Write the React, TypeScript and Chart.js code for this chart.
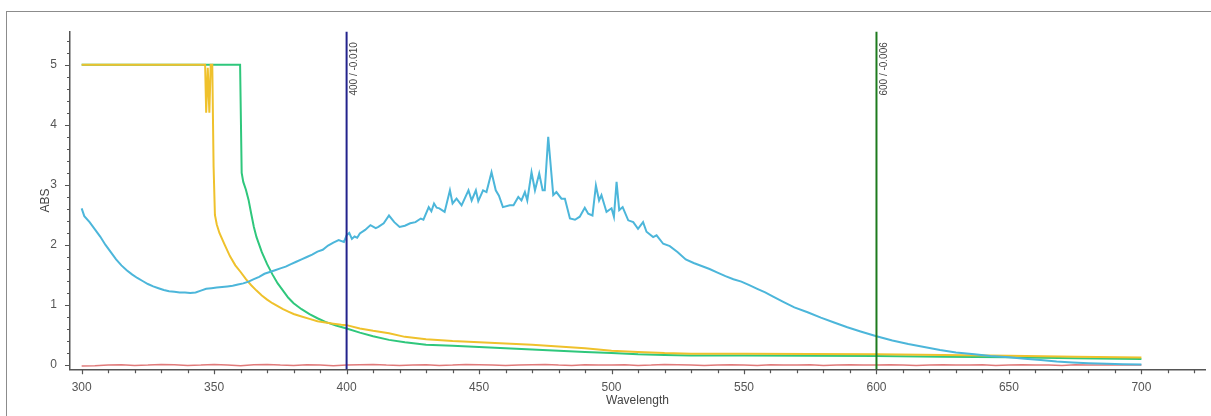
import { useEffect, useRef } from "react";
import { Chart, registerables } from "chart.js";

Chart.register(...registerables);

// ---------- DATA ----------
const blueWl = [
  300, 301, 303, 305, 307, 309, 311, 313, 315, 317, 319, 321, 323, 325, 327, 329, 331, 333, 335, 337,
  339, 341, 343, 345, 347, 349, 351, 353, 355, 357, 359, 361, 363, 365, 367, 369, 371, 373, 375, 377,
  379, 381, 383, 385, 387, 389, 391, 393, 395, 397, 399, 400, 401, 402, 403, 404, 405, 407, 409, 411,
  412, 414, 416, 418, 420, 422, 424, 426, 428, 429, 431, 432, 433, 434, 435, 437, 439, 440, 441.5, 443.4,
  446, 447.2, 448.8, 449.7, 451.5, 452.8, 454.7, 456.3, 457.5, 459, 461.6, 463, 464.8, 466, 467.3, 468.2,
  469.8, 471.1, 472.7, 474, 474.8, 476.1, 478, 479.2, 481.1, 482.4, 484.3, 486.2, 488, 489.9, 491.2, 492.8,
  494.1, 495.3, 496.2, 498.1, 500, 500.9, 501.9, 502.9, 504.2, 506.3, 508.2, 510, 511.9, 513.2, 515.7, 517,
  519.5, 522, 525, 528, 531, 534, 537, 540, 543, 546, 549, 552, 555, 558, 561, 565, 569, 574, 579, 584,
  589, 594, 600, 606, 612, 618, 624, 630, 637, 643, 650, 656, 662, 668, 674, 680, 687, 693, 700,
];
const blueAbs = [
  2.61, 2.48, 2.38, 2.26, 2.14, 2.0, 1.88, 1.76, 1.66, 1.58, 1.51, 1.45, 1.4, 1.35, 1.31, 1.28, 1.25, 1.23, 1.22, 1.21,
  1.21, 1.2, 1.21, 1.24, 1.27, 1.28, 1.29, 1.3, 1.31, 1.32, 1.34, 1.36, 1.39, 1.43, 1.47, 1.52, 1.55, 1.58, 1.61, 1.64,
  1.68, 1.72, 1.76, 1.8, 1.84, 1.89, 1.92, 1.99, 2.04, 2.08, 2.05, 2.16, 2.2, 2.1, 2.14, 2.12, 2.19, 2.25, 2.33, 2.28,
  2.3, 2.36, 2.49, 2.38, 2.3, 2.32, 2.36, 2.38, 2.44, 2.42, 2.63, 2.56, 2.69, 2.62, 2.61, 2.55, 2.91, 2.69, 2.77, 2.66,
  2.91, 2.74, 2.91, 2.73, 2.91, 2.88, 3.21, 2.91, 2.82, 2.63, 2.66, 2.66, 2.8, 2.74, 2.88, 2.74,
  3.21, 2.91, 3.19, 2.91, 2.91, 3.8, 2.83, 2.88, 2.77, 2.77, 2.44, 2.42, 2.47, 2.62, 2.52, 2.49,
  2.99, 2.74, 2.83, 2.55, 2.61, 2.47, 3.05, 2.58, 2.63, 2.41, 2.38, 2.27, 2.38, 2.22, 2.13, 2.16,
  2.02, 1.98, 1.88, 1.76, 1.7, 1.65, 1.6, 1.54, 1.48, 1.43, 1.39, 1.33, 1.27, 1.21, 1.14, 1.05, 0.96, 0.88, 0.79, 0.71,
  0.63, 0.56, 0.48, 0.41, 0.35, 0.3, 0.25, 0.21, 0.18, 0.15, 0.13, 0.105, 0.083, 0.06, 0.044, 0.032, 0.022, 0.015, 0.01,
];

const yellowWl = [
  300, 346.6, 347.0, 347.6, 348.2, 348.7, 349.3, 349.8, 350.3, 351, 352, 354, 356, 358, 360, 362, 364, 366, 368, 370,
  372, 374, 376, 378, 380, 383, 386, 389, 392, 395, 398, 400, 405, 410, 416, 422, 430, 440, 450, 460,
  470, 480, 490, 500, 510, 520, 530, 550, 575, 600, 625, 650, 675, 700,
];
const yellowAbs = [
  5.0, 5.0, 4.2, 4.95, 4.2, 5.0, 5.0, 3.3, 2.5, 2.34, 2.2, 2.0, 1.81, 1.66, 1.55, 1.43, 1.33, 1.24, 1.16, 1.09,
  1.03, 0.98, 0.93, 0.89, 0.85, 0.81, 0.77, 0.73, 0.71, 0.69, 0.67, 0.665, 0.61, 0.57, 0.53, 0.47, 0.43, 0.4, 0.38, 0.36,
  0.34, 0.31, 0.28, 0.24, 0.22, 0.2, 0.19, 0.19, 0.185, 0.18, 0.17, 0.155, 0.14, 0.125,
];

const greenWl = [
  300, 359.8, 360.4, 361, 362, 363, 364, 365, 366, 368, 370, 372, 374, 376, 378, 380, 383, 386, 389, 392,
  396, 400, 405, 410, 416, 422, 430, 440, 450, 460, 470, 480, 490, 500, 510, 520, 530, 550, 575, 600,
  625, 650, 675, 700,
];
const greenAbs = [
  5.0, 5.0, 3.2, 3.05, 2.92, 2.75, 2.52, 2.3, 2.13, 1.88, 1.68, 1.51, 1.36, 1.24, 1.12, 1.03, 0.93, 0.85, 0.78, 0.72,
  0.66, 0.61, 0.54, 0.48, 0.42, 0.38, 0.34, 0.32, 0.3, 0.28, 0.26, 0.24, 0.22, 0.2, 0.18, 0.17, 0.16, 0.16, 0.155, 0.15,
  0.14, 0.13, 0.115, 0.1,
];

// red baseline, one reading every 5 nm starting at 300 nm
const redStart = 300;
const redStep = 5;
const redAbs = [
  -0.015, -0.01, 0.0, 0.005, -0.005, 0.0, 0.01, 0.005, -0.005, 0.0,
  0.01, 0.0, -0.01, 0.005, 0.01, 0.0, -0.005, 0.005, 0.0, -0.01,
  0.0, 0.005, 0.01, 0.0, -0.005, 0.0, 0.005, -0.005, 0.0, 0.01,
  0.005, 0.0, -0.005, 0.0, 0.005, 0.01, 0.0, -0.005, 0.005, 0.0,
  0.0, 0.005, -0.005, 0.0, 0.01, 0.005, 0.0, -0.005, 0.0, 0.005,
  0.0, -0.005, 0.005, 0.0, 0.0, 0.005, -0.005, 0.0, 0.005, 0.0,
  0.0, 0.005, 0.0, -0.005, 0.0, 0.005, 0.0, 0.0, 0.005, -0.005,
  0.0, 0.005, 0.0, 0.0, -0.005, 0.005, 0.0, 0.0, 0.005, 0.0,
  0.0,
];

const xTickLabels = [300, 350, 400, 450, 500, 550, 600, 650, 700];
const yTickLabels = [0, 1, 2, 3, 4, 5];
const markerWl = [400, 600];
const markerText = ["400 / -0.010", "600 / -0.006"];

// ---------- HELPERS ----------
const FONT = '"Liberation Sans", Arial, sans-serif';
const pts = (xs: number[], ys: number[]) => xs.map((x, i) => ({ x, y: ys[i] }));
const redPts = redAbs.map((y, i) => ({ x: redStart + i * redStep, y }));

const decorPlugin = {
  id: "decor",
  afterDatasetsDraw(chart: any) {
    const { ctx, chartArea, scales } = chart;
    const xs = scales.x;
    const ys = scales.y;
    const markerColors = ["#23238c", "#1e7a1e"];
    ctx.save();
    // marker lines + labels
    markerWl.forEach((w, i) => {
      const px = xs.getPixelForValue(w);
      ctx.strokeStyle = markerColors[i];
      ctx.lineWidth = 2;
      ctx.beginPath();
      ctx.moveTo(px, chartArea.top);
      ctx.lineTo(px, chartArea.bottom);
      ctx.stroke();
      ctx.save();
      ctx.translate(px + 7.5, chartArea.top + 10.5);
      ctx.rotate(-Math.PI / 2);
      ctx.font = `10px ${FONT}`;
      ctx.fillStyle = "#444";
      ctx.textAlign = "right";
      ctx.textBaseline = "middle";
      ctx.fillText(markerText[i], 0, 0);
      ctx.restore();
    });
    // tick marks
    ctx.strokeStyle = "#555";
    ctx.lineWidth = 1.2;
    ctx.beginPath();
    for (let v = 300; v <= 720; v += 10) {
      const px = Math.round(xs.getPixelForValue(v)) + 0.5;
      const len = v % 50 === 0 ? 5 : 4;
      ctx.moveTo(px, chartArea.bottom);
      ctx.lineTo(px, chartArea.bottom + len);
    }
    for (let k = 0; k <= 27; k++) {
      const v = k * 0.2;
      const py = Math.round(ys.getPixelForValue(v)) + 0.5;
      const len = k % 5 === 0 ? 5 : 3;
      ctx.moveTo(chartArea.left - len, py);
      ctx.lineTo(chartArea.left, py);
    }
    ctx.stroke();
    ctx.restore();
  },
};

export default function App() {
  const ref = useRef<HTMLCanvasElement | null>(null);

  useEffect(() => {
    if (!ref.current) return;
    const chart = new Chart(ref.current, {
      type: "line",
      data: {
        datasets: [
          { label: "S4", data: pts(blueWl, blueAbs), borderColor: "#4cb6da", borderWidth: 2, pointRadius: 0, order: 0 },
          { label: "S3", data: pts(yellowWl, yellowAbs), borderColor: "#efc12c", borderWidth: 2, pointRadius: 0, order: 1 },
          { label: "S2", data: pts(greenWl, greenAbs), borderColor: "#2fc77c", borderWidth: 2, pointRadius: 0, order: 2 },
          { label: "S1", data: redPts, borderColor: "#e07a7a", borderWidth: 1.5, pointRadius: 0, order: 3 },
        ],
      },
      options: {
        animation: false,
        responsive: false,
        maintainAspectRatio: false,
        layout: { padding: { top: 31.7, right: 6, left: 0, bottom: 0 } },
        plugins: { legend: { display: false }, tooltip: { enabled: false } },
        elements: { line: { tension: 0 } },
        scales: {
          x: {
            type: "linear",
            min: 295.6,
            max: 724,
            grid: { display: false, drawTicks: false },
            border: { display: true, color: "#555", width: 1.5 },
            ticks: { color: "#555", font: { family: FONT, size: 12 }, padding: 11.5, maxRotation: 0 },
            afterBuildTicks: (s: any) => {
              s.ticks = xTickLabels.map((v) => ({ value: v }));
            },
            afterFit: (s: any) => {
              s.height = 46.7;
            },
            title: {
              display: true,
              text: "Wavelength",
              color: "#444",
              font: { family: FONT, size: 12 },
              padding: { top: 0, bottom: 8.5 },
            },
          },
          y: {
            type: "linear",
            min: -0.07,
            max: 5.55,
            grid: { display: false, drawTicks: false },
            border: { display: true, color: "#555", width: 1.5 },
            ticks: { color: "#555", font: { family: FONT, size: 12 }, padding: 13 },
            afterBuildTicks: (s: any) => {
              s.ticks = yTickLabels.map((v) => ({ value: v }));
            },
            afterFit: (s: any) => {
              s.width = 70;
            },
            title: {
              display: true,
              text: "ABS",
              color: "#444",
              font: { family: FONT, size: 12 },
              padding: { top: 38, bottom: 0 },
            },
          },
        },
      },
      plugins: [decorPlugin],
    });
    return () => chart.destroy();
  }, []);

  return (
    <div style={{ position: "fixed", left: 0, top: 0, width: 1211, height: 416, background: "#fff", overflow: "hidden" }}>
      <div
        style={{
          position: "absolute",
          left: 6,
          top: 11,
          right: 0,
          bottom: 0,
          borderTop: "1.5px solid #8c8c8c",
          borderLeft: "1.5px solid #8c8c8c",
        }}
      />
      <canvas ref={ref} width={1211} height={416} style={{ position: "absolute", left: 0, top: 0, width: 1211, height: 416 }} />
    </div>
  );
}
